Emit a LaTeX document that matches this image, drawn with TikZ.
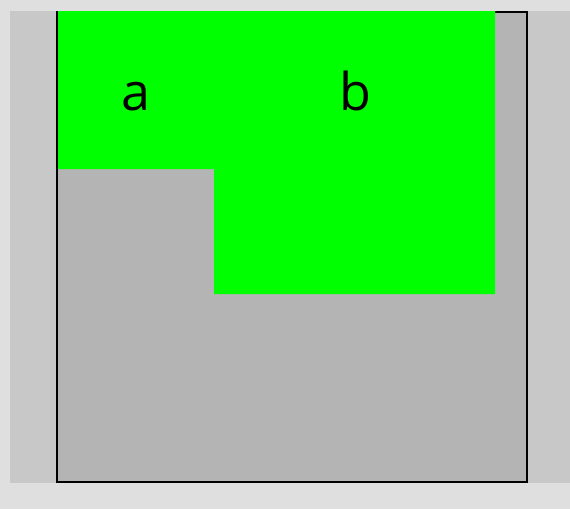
\documentclass[tikz,border=0pt]{standalone}
\usepackage{fontspec}
\setmainfont{Open Sans}
\definecolor{pagebg}{HTML}{DFDFDF}
\definecolor{panelbg}{HTML}{C8C8C8}
\definecolor{boxbg}{HTML}{B4B4B4}
\definecolor{areagreen}{HTML}{00FF00}
\begin{document}
\begin{tikzpicture}[x=1pt, y=-1pt, every node/.style={font=\fontsize{52}{60}\selectfont},
  lbl/.style={anchor=base,inner sep=0pt}]
% backdrop
\fill[pagebg] (0,0) rectangle (570,509);
\fill[panelbg] (10,11) rectangle (570,483);
% box
\draw[fill=boxbg,line width=2pt] (57,12) rectangle (527,482);
% green areas
\fill[areagreen] (58,11) -- (495,11) -- (495,294) -- (214,294) -- (214,169) -- (58,169) -- cycle;
\node[lbl] (a) at (136,110) {a};
\node[lbl] (b) at (355,110) {b};
\end{tikzpicture}
\end{document}
